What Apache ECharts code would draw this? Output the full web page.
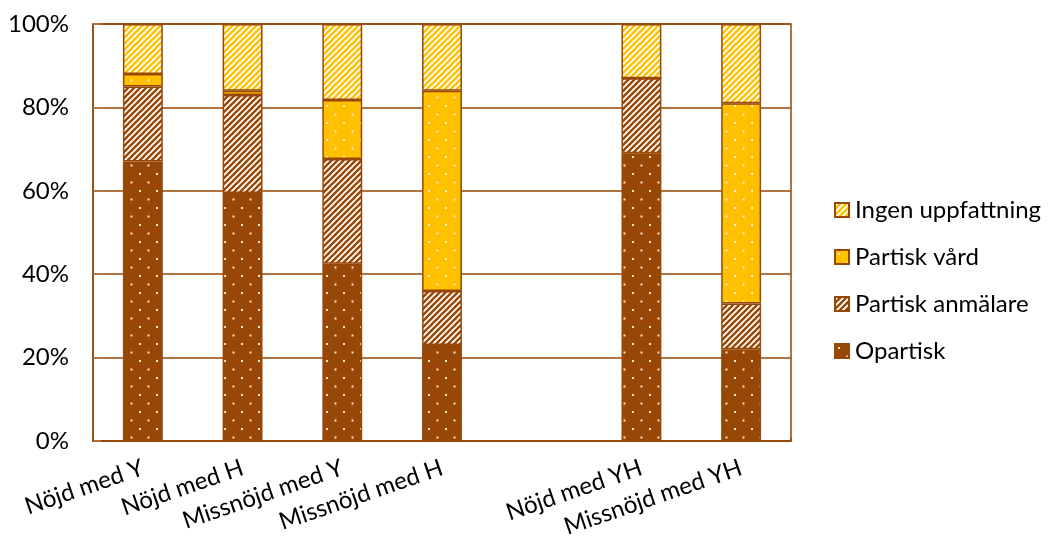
<!DOCTYPE html>
<html>
<head>
<meta charset="utf-8">
<script src="https://cdn.jsdelivr.net/npm/echarts@6/dist/echarts.min.js"></script>
<style>
  html, body { margin: 0; padding: 0; background: #fff; }
  #chart { width: 1051px; height: 540px; }
</style>
</head>
<body>
<div id="chart"></div>
<script>
// Categories (one empty slot separates the single-party groups from YH)
const categories = ['Nöjd med Y', 'Nöjd med H', 'Missnöjd med Y', 'Missnöjd med H', '', 'Nöjd med YH', 'Missnöjd med YH'];

// Shares in percent, bottom to top of each stack
const opartisk        = [67,   59.5, 42.5, 23, null, 69, 22];
const partiskAnmalare = [18,   23.5, 25.1, 13, null, 18, 11];
const partiskVard     = [3,    1,    14.2, 48, null, 0,  48];
const ingenUppfattning= [12,   16,   18.2, 16, null, 13, 19];

const yTicks = [0, 20, 40, 60, 80, 100];

const BROWN = '#974706';
const YELLOW = '#FFC000';

// Dotted fill: coloured ground with a staggered grid of small light dots
function dotPattern(bg) {
  const c = document.createElement('canvas');
  c.width = 17; c.height = 17;
  const g = c.getContext('2d');
  g.fillStyle = bg; g.fillRect(0, 0, 17, 17);
  g.fillStyle = 'rgba(255,240,220,0.95)';
  g.fillRect(3, 3, 2, 2);
  g.fillRect(11.5, 11.5, 2, 2);
  return { image: c, repeat: 'repeat' };
}

// Diagonal "/" stripes of a colour on white
function stripePattern(fg) {
  const s = 6;
  const c = document.createElement('canvas');
  c.width = s; c.height = s;
  const g = c.getContext('2d');
  g.fillStyle = '#fff'; g.fillRect(0, 0, s, s);
  g.strokeStyle = fg; g.lineWidth = 2.4; g.lineCap = 'square';
  for (let k = -1; k <= 2; k++) {
    g.beginPath();
    g.moveTo(k * s - s, s + s);
    g.lineTo(k * s + s, s - s);
    g.stroke();
  }
  return { image: c, repeat: 'repeat' };
}

function barSeries(name, data, fill) {
  return {
    name: name,
    type: 'bar',
    stack: 'total',
    barWidth: '40%',
    data: data,
    itemStyle: { color: fill, borderColor: BROWN, borderWidth: 1.5 }
  };
}

const chart = echarts.init(document.getElementById('chart'), null, { renderer: 'canvas' });
const FONT = 'Lato, "Open Sans", sans-serif';

chart.setOption({
  animation: false,
  backgroundColor: '#fff',
  textStyle: { fontFamily: FONT },
  grid: { left: 93, right: 260, top: 24, bottom: 98, show: true, borderColor: BROWN, borderWidth: 1.5, backgroundColor: 'transparent' },
  legend: {
    orient: 'vertical',
    left: 829,
    top: 193,
    itemWidth: 14,
    itemHeight: 14,
    itemGap: 23,
    icon: 'rect',
    data: ['Ingen uppfattning', 'Partisk vård', 'Partisk anmälare', 'Opartisk'],
    textStyle: { fontSize: 24, lineHeight: 24, color: '#000', fontFamily: FONT, padding: [0, 0, 0, 1] }
  },
  xAxis: [{
    type: 'category',
    data: categories,
    axisLine: { lineStyle: { color: BROWN, width: 1.5 } },
    axisTick: { inside: true, length: 6, lineStyle: { color: BROWN, width: 1.5 } },
    axisLabel: { rotate: 19, fontSize: 24, color: '#000', margin: 26, interval: 0, fontFamily: FONT }
  }, {
    type: 'category',
    position: 'bottom',
    data: categories.flatMap(c => [c, c]),
    axisLine: { show: false },
    axisLabel: { show: false },
    axisTick: { show: true, inside: true, length: 3, interval: (i) => i === 9, lineStyle: { color: BROWN, width: 1.5 } },
    splitLine: { show: false }
  }],
  yAxis: {
    type: 'value',
    min: yTicks[0],
    max: yTicks[yTicks.length - 1],
    interval: 20,
    axisLine: { show: true, lineStyle: { color: BROWN, width: 1.5 } },
    axisTick: { show: true, inside: true, length: 8, lineStyle: { color: '#b77a4f', width: 1.5 } },
    splitLine: { lineStyle: { color: BROWN, width: 1.5 } },
    axisLabel: { formatter: '{value}%', fontSize: 24, color: '#000', margin: 24, fontFamily: FONT }
  },
  series: [
    barSeries('Opartisk', opartisk, dotPattern(BROWN)),
    barSeries('Partisk anmälare', partiskAnmalare, stripePattern(BROWN)),
    barSeries('Partisk vård', partiskVard, dotPattern(YELLOW)),
    barSeries('Ingen uppfattning', ingenUppfattning, stripePattern(YELLOW))
  ]
});
</script>
</body>
</html>
